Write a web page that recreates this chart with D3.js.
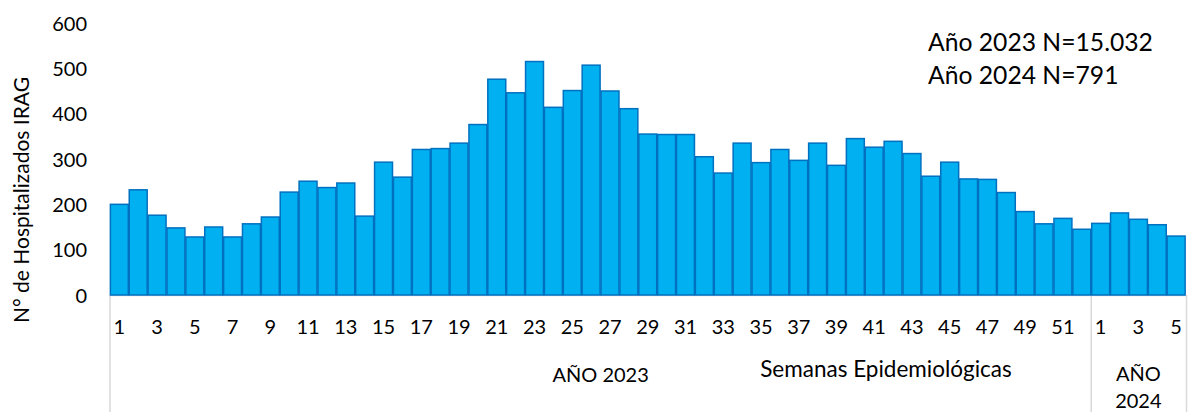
<!DOCTYPE html>
<html>
<head>
<meta charset="utf-8">
<script src="https://cdn.jsdelivr.net/npm/d3@7"></script>
<style>
  html, body { margin: 0; padding: 0; background: #fff; }
  svg { display: block; font-family: Lato, "Noto Sans", sans-serif; }
</style>
</head>
<body>
<svg id="chart" width="1189" height="412"></svg>
<script>
// Weekly hospitalised IRAG cases by epidemiological week
const weeks2023 = d3.range(1, 53);
const weeks2024 = [1, 2, 3, 4, 5];
const values2023 = [
  200, 232, 176, 148, 128, 150, 128, 157, 172, 227,
  251, 237, 247, 174, 293, 260, 321, 323, 335, 376,
  476, 446, 515, 414, 451, 507, 450, 411, 355, 354,
  354, 305, 269, 335, 292, 321, 297, 335, 286, 345,
  326, 339, 312, 262, 293, 256, 255, 226, 184, 157,
  169, 145
];
const values2024 = [158, 181, 167, 155, 130];
const yTicks = [0, 100, 200, 300, 400, 500, 600];
const groupLabels = [["AÑO 2023"], ["AÑO", "2024"]];
const yTitle = "N° de Hospitalizados IRAG";
const xTitle = "Semanas Epidemiológicas";
const notes = ["Año 2023 N=15.032", "Año 2024 N=791"];

const data = [
  ...weeks2023.map((w, i) => ({ key: "2023-" + w, year: 2023, week: w, value: values2023[i] })),
  ...weeks2024.map((w, i) => ({ key: "2024-" + w, year: 2024, week: w, value: values2024[i] }))
];

const svg = d3.select("#chart");
const plotLeft = 110, plotRight = 1185.5, plotTop = 23, plotBottom = 295;

const x = d3.scaleBand()
  .domain(data.map(d => d.key))
  .range([plotLeft, plotRight])
  .paddingInner(0.05)
  .paddingOuter(0.02);

const y = d3.scaleLinear().domain([0, 600]).range([plotBottom, plotTop]);

const axisColor = "#d9d9d9";

// category axis frame: baseline and group separators
svg.append("line")
  .attr("x1", plotLeft).attr("x2", plotRight)
  .attr("y1", plotBottom + 0.5).attr("y2", plotBottom + 0.5)
  .attr("stroke", axisColor).attr("stroke-width", 1.5);

const split = (x("2023-52") + x.bandwidth() + x("2024-1")) / 2;
[plotLeft, split, plotRight + 1].forEach(px => {
  svg.append("line")
    .attr("x1", px).attr("x2", px)
    .attr("y1", plotBottom).attr("y2", 412)
    .attr("stroke", axisColor).attr("stroke-width", 1.5);
});

// bars
svg.append("g").selectAll("rect")
  .data(data)
  .join("rect")
  .attr("x", d => x(d.key))
  .attr("y", d => y(d.value))
  .attr("width", x.bandwidth())
  .attr("height", d => y(0) - y(d.value))
  .attr("fill", "#00b0f0")
  .attr("stroke", "#0070c0")
  .attr("stroke-width", 1.5);

// y axis labels (no axis line)
const yAxis = d3.axisLeft(y).tickValues(yTicks).tickSize(0).tickPadding(0);
const gy = svg.append("g")
  .attr("transform", `translate(${87},0)`)
  .call(yAxis);
gy.select(".domain").remove();
gy.selectAll("text")
  .attr("font-family", "Lato, sans-serif")
  .attr("font-size", 20)
  .attr("fill", "#000")
  .attr("dy", "0.36em");

// week tick labels (odd weeks only)
const xAxis = d3.axisBottom(x)
  .tickValues(data.filter(d => d.week % 2 === 1).map(d => d.key))
  .tickFormat(k => k.split("-")[1])
  .tickSize(0)
  .tickPadding(0);
const gx = svg.append("g")
  .attr("transform", `translate(0,${334})`)
  .call(xAxis);
gx.select(".domain").remove();
gx.selectAll("text")
  .attr("font-family", "Lato, sans-serif")
  .attr("font-size", 20)
  .attr("fill", "#000")
  .attr("dy", 0)
  .attr("y", 0);

// year group labels
const g2023c = (plotLeft + split) / 2;
const g2024c = (split + plotRight) / 2;
svg.append("text")
  .attr("x", g2023c).attr("y", 382)
  .attr("text-anchor", "middle")
  .attr("font-size", 20)
  .text(groupLabels[0][0]);
const t24 = svg.append("text")
  .attr("x", g2024c).attr("y", 381)
  .attr("text-anchor", "middle")
  .attr("font-size", 20);
t24.append("tspan").attr("x", g2024c).text(groupLabels[1][0]);
t24.append("tspan").attr("x", g2024c).attr("y", 408).text(groupLabels[1][1]);

// axis titles
svg.append("text")
  .attr("x", 886).attr("y", 377)
  .attr("text-anchor", "middle")
  .attr("font-size", 22.5)
  .text(xTitle);

svg.append("text")
  .attr("transform", `translate(29,200) rotate(-90)`)
  .attr("text-anchor", "middle")
  .attr("font-size", 21)
  .text(yTitle);

// totals note
const note = svg.append("text")
  .attr("x", 928).attr("y", 51)
  .attr("font-size", 24.7);
note.append("tspan").attr("x", 928).text(notes[0]);
note.append("tspan").attr("x", 928).attr("y", 84).text(notes[1]);
</script>
</body>
</html>
